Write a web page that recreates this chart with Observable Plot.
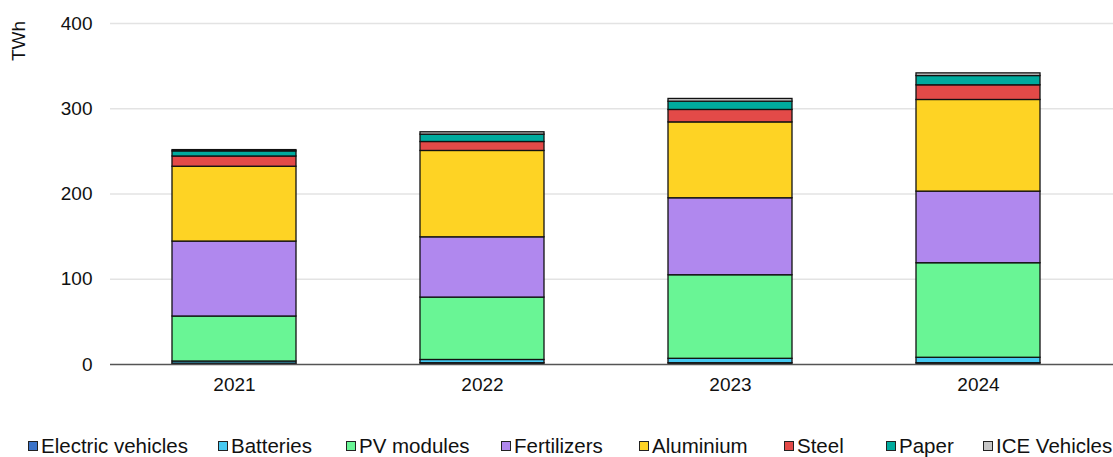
<!DOCTYPE html>
<html>
<head>
<meta charset="utf-8">
<script src="https://cdn.jsdelivr.net/npm/d3@7"></script>
<script src="https://cdn.jsdelivr.net/npm/@observablehq/plot@0.6"></script>
<style>
  html, body { margin: 0; padding: 0; background: #fff; }
  body { position: relative; width: 1113px; height: 457px; overflow: hidden; font-family: "Liberation Sans", Arial, sans-serif; }
  #legend { position: relative; height: 32px; font-size: 20.5px; color: #111; white-space: nowrap; }
  .item { position: absolute; top: 0; height: 32px; display: flex; align-items: center; }
  .sw { width: 8px; height: 8px; border: 1px solid #222; margin-right: 3px; }
  #ylabel { position: absolute; left: 19px; top: 41px; transform: translate(-50%, -50%) rotate(-90deg); font-size: 19px; color: #111; white-space: nowrap; }
</style>
</head>
<body>
<div id="chart"></div>
<div id="legend"></div>
<div id="ylabel">TWh</div>
<script>
const years = ["2021", "2022", "2023", "2024"];
const categories = ["Electric vehicles", "Batteries", "PV modules", "Fertilizers", "Aluminium", "Steel", "Paper", "ICE Vehicles"];
const colors = ["#3b73c8", "#46c9f2", "#69f595", "#b088ee", "#fed324", "#e34a48", "#00ab9e", "#c6c6c6"];
const ev = [1.0, 1.5, 1.5, 1.5];
const batteries = [2.5, 3.8, 5.2, 6.4];
const pv = [52.8, 73.2, 98.0, 110.9];
const fertilizers = [87.9, 70.7, 90.3, 84.0];
const aluminium = [87.8, 101.3, 89.0, 107.5];
const steel = [12.0, 10.5, 14.6, 17.2];
const paper = [6.0, 8.6, 9.7, 10.9];
const ice = [1.5, 2.8, 3.2, 3.1];
const yTicks = [0, 100, 200, 300, 400];

// layout: legend item left edges (px)
const legendLeft = [28, 218, 346, 501, 639, 784, 886, 983];

const series = [ev, batteries, pv, fertilizers, aluminium, steel, paper, ice];
const data = [];
categories.forEach((c, i) => years.forEach((y, j) => data.push({year: y, category: c, value: series[i][j]})));

const font = "'Liberation Sans', Arial, sans-serif";
const chart = Plot.plot({
  width: 1113,
  height: 430,
  marginLeft: 110,
  marginRight: 0,
  marginTop: 23,
  marginBottom: 66,
  style: {fontFamily: font, fontSize: "19px", color: "#111", background: "#fff"},
  x: {domain: years, range: [110, 1102], paddingInner: 0.5, paddingOuter: 0.25, label: null},
  y: {domain: [0, 400], label: null},
  color: {domain: categories, range: colors},
  marks: [
    Plot.ruleY(yTicks.filter(d => d > 0), {stroke: "#e3e3e3", strokeWidth: 1.3}),
    Plot.barY(data, {x: "year", y: "value", fill: "category", z: "category", stroke: "#111", strokeWidth: 1.3, order: null}),
    Plot.ruleY([0], {stroke: "#555", strokeWidth: 1.5}),
    Plot.axisY({ticks: yTicks, tickSize: 0, tickPadding: 18, fontSize: 19, label: null}),
    Plot.axisX({tickSize: 0, tickPadding: 13, fontSize: 19, label: null})
  ]
});
document.getElementById("chart").appendChild(chart);

const legend = document.getElementById("legend");
categories.forEach((c, i) => {
  const item = document.createElement("div");
  item.className = "item";
  item.style.left = legendLeft[i] + "px";
  const sw = document.createElement("span");
  sw.className = "sw";
  sw.style.background = colors[i];
  const t = document.createElement("span");
  t.textContent = c;
  item.appendChild(sw);
  item.appendChild(t);
  legend.appendChild(item);
});
</script>
</body>
</html>
